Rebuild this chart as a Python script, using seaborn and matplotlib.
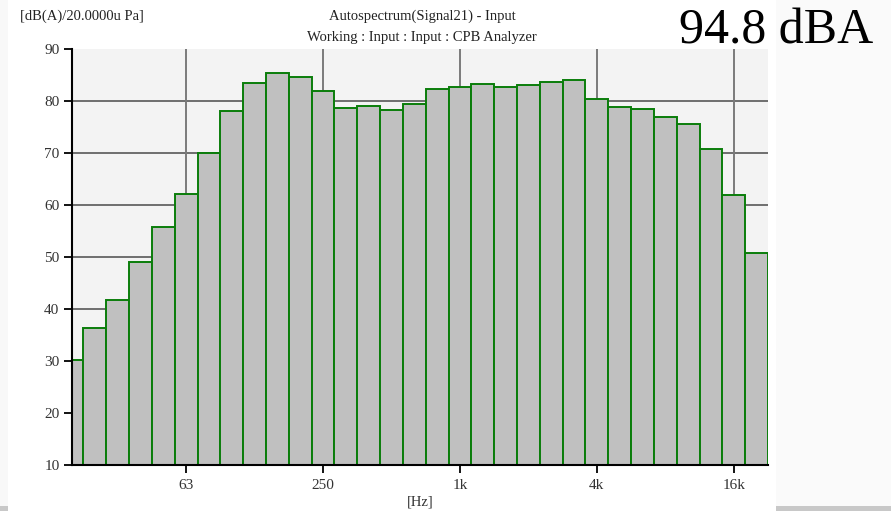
import matplotlib
matplotlib.use("Agg")
import matplotlib.pyplot as plt
import seaborn as sns
import pandas as pd
from matplotlib.patches import Rectangle

bands = ["20", "25", "31.5", "40", "50", "63", "80", "100", "125", "160", "200",
         "250", "315", "400", "500", "630", "800", "1k", "1.25k", "1.6k", "2k",
         "2.5k", "3.15k", "4k", "5k", "6.3k", "8k", "10k", "12.5k", "16k", "20k"]
levels = [30.2, 36.4, 41.7, 49.1, 55.7, 62.1, 70.0, 78.0, 83.5, 85.4, 84.7,
          82.0, 78.7, 79.1, 78.3, 79.5, 82.4, 82.7, 83.3, 82.7, 83.0,
          83.7, 84.0, 80.4, 78.8, 78.5, 77.0, 75.5, 70.8, 61.9, 50.8]
tick_labels = ["63", "250", "1k", "4k", "16k"]
y_ticks = [10, 20, 30, 40, 50, 60, 70, 80, 90]

df = pd.DataFrame({"band": bands, "level": levels})

sns.set_theme(style="white")
plt.rcParams["font.family"] = ["Liberation Serif", "DejaVu Serif"]

W, H = 891, 511
fig = plt.figure(figsize=(W / 100, H / 100), dpi=100)
fig.patch.set_facecolor("white")

def px_rect(x0, y0, x1, y1, color):
    fig.patches.append(Rectangle((x0 / W, 1 - y1 / H), (x1 - x0) / W, (y1 - y0) / H,
                                 transform=fig.transFigure, facecolor=color,
                                 edgecolor="none", zorder=-10))

px_rect(776, 0, 891, 511, "#fafafa")
px_rect(0, 0, 8, 511, "#f8f8f8")
px_rect(776, 506, 891, 511, "#c8c8c8")
px_rect(0, 506, 8, 511, "#c8c8c8")

ax = fig.add_axes([72 / W, 1 - 465 / H, (768 - 72) / W, (465 - 49) / H])
ax.set_facecolor("#f3f3f3")

sns.barplot(data=df, x="band", y="level", order=bands, color="#c0c0c0",
            saturation=1, width=1.0, edgecolor="#0a7d0a", linewidth=1.4,
            ax=ax, zorder=3)

ax.set_ylim(10, 90)
ax.set_xlim(0, 30.5)
ax.set_yticks(y_ticks)
ax.set_yticklabels([str(v) for v in y_ticks])
tick_pos = [bands.index(t) for t in tick_labels]
ax.set_xticks(tick_pos)
ax.set_xticklabels(tick_labels)

for y in y_ticks[1:-1]:
    ax.axhline(y, color="#6e6e6e", lw=1.4, zorder=1)
for x in tick_pos:
    ax.axvline(x, color="#7a7a7a", lw=1.4, zorder=1)

ax.set_xlabel("")
ax.set_ylabel("")
for s in ["top", "right"]:
    ax.spines[s].set_visible(False)
for s in ["left", "bottom"]:
    ax.spines[s].set_visible(True)
    ax.spines[s].set_color("black")
    ax.spines[s].set_linewidth(1.5)
    ax.spines[s].set_zorder(5)

ax.tick_params(axis="both", which="major", direction="out", length=6, width=1.3,
               color="black", labelsize=11, labelcolor="#333333", pad=3,
               bottom=True, left=True, top=False, right=False)
ax.tick_params(axis="x", pad=4)

fig.text(20 / W, 1 - 16 / H, "[dB(A)/20.0000u Pa]", ha="left", va="center",
         fontsize=10.5, color="#222222")
fig.text(422 / W, 1 - 16 / H, "Autospectrum(Signal21) - Input", ha="center",
         va="center", fontsize=10.5, color="#222222")
fig.text(422 / W, 1 - 37 / H, "Working : Input : Input : CPB Analyzer", ha="center",
         va="center", fontsize=10.5, color="#222222")
fig.text(873 / W, 1 - 31 / H, "94.8 dBA", ha="right", va="center",
         fontsize=36, color="black")
fig.text(420 / W, 1 - 502 / H, "[Hz]", ha="center", va="center",
         fontsize=10.5, color="#333333")

fig.savefig("out.png", dpi=100, facecolor=fig.get_facecolor())
